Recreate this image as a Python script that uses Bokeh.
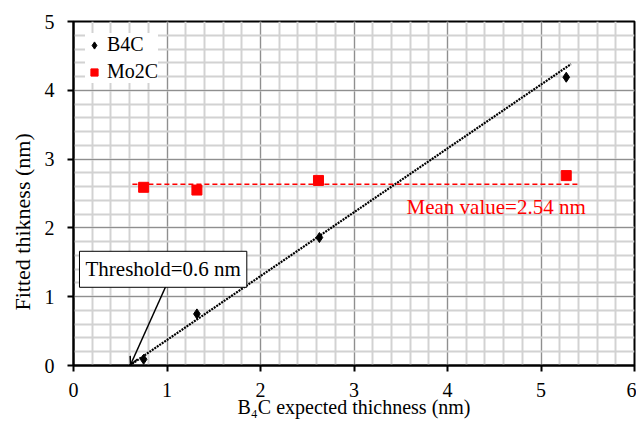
from bokeh.plotting import figure
from bokeh.models import (Range1d, SingleIntervalTicker, Label, Arrow, OpenHead,
                          Legend, LegendItem, Title)
from bokeh.embed import file_html
from bokeh.resources import INLINE

# ---- data ----
b4c_x = [0.75, 1.32, 2.63, 5.27]
b4c_y = [0.09, 0.75, 1.86, 4.19]
mo2c_x = [0.75, 1.32, 2.62, 5.27]
mo2c_y = [2.59, 2.55, 2.69, 2.76]
fit_x = [0.60, 5.32]
fit_y = [0.00, 4.38]
mean_x = [0.63, 5.41]
mean_y = [2.635, 2.635]
threshold_arrow = [0.99, 1.16, 0.61, 0.01]  # x_start, y_start, x_end, y_end
x_ticks = [0, 1, 2, 3, 4, 5, 6]
y_ticks = [0, 1, 2, 3, 4, 5]

FONT = "Liberation Serif"

p = figure(width=636, height=421, output_backend="svg", toolbar_location=None,
           x_range=Range1d(0, 6), y_range=Range1d(0, 5),
           min_border_left=73, min_border_right=2, min_border_top=21, min_border_bottom=56)
p.background_fill_color = "white"
p.border_fill_color = "white"
p.outline_line_color = "black"
p.outline_line_width = 2

for ax in (p.xaxis[0], p.yaxis[0]):
    ax.ticker = SingleIntervalTicker(interval=1, num_minor_ticks=5)
    ax.axis_line_width = 2
    ax.axis_line_color = "black"
    ax.major_tick_line_width = 2
    ax.major_tick_line_color = "black"
    ax.major_tick_out = 6
    ax.major_tick_in = 0
    ax.minor_tick_line_color = None
    ax.major_label_text_font = FONT
    ax.major_label_text_font_size = "20px"
    ax.major_label_text_color = "black"
    ax.axis_label_text_font = FONT
    ax.axis_label_text_font_size = "20px"
    ax.axis_label_text_font_style = "normal"
    ax.axis_label_text_color = "black"

p.xaxis.axis_label = "B\u2084C expected thichness (nm)"
p.xaxis.major_label_standoff = 11
p.xaxis.axis_label_standoff = -4
p.yaxis.major_label_standoff = 13

# y axis title as a side title so it can sit off-centre like the reference
ytitle = Title(text="Fitted thikness (nm)", align="left", offset=55,
               text_font=FONT, text_font_size="22px", text_font_style="normal",
               text_color="black", standoff=14)
p.add_layout(ytitle, "left")

for g in (p.xgrid[0], p.ygrid[0]):
    g.grid_line_color = "#8f8f8f"
    g.grid_line_width = 1
    g.minor_grid_line_color = "#d2d2d2"
    g.minor_grid_line_width = 2

# lines
p.line(fit_x, fit_y, line_color="black", line_width=2.2, line_dash="2 1")
p.line(mean_x, mean_y, line_color="#ff0000", line_width=1.5, line_dash="5 3")

# markers
r_b4c = p.scatter(b4c_x, b4c_y, marker="diamond", size=10, color="black")
r_mo2c = p.scatter(mo2c_x, mo2c_y, marker="square", size=10, color="#ff0000")

legend = Legend(items=[LegendItem(label="B4C", renderers=[r_b4c]),
                       LegendItem(label="Mo2C", renderers=[r_mo2c])],
                location="top_left")
legend.label_text_font = FONT
legend.label_text_font_size = "20px"
legend.label_text_color = "black"
legend.border_line_color = None
legend.background_fill_color = "white"
legend.background_fill_alpha = 1
legend.margin = 12
legend.padding = 4
legend.spacing = 4
legend.glyph_width = 18
legend.label_standoff = 4
p.add_layout(legend)

# annotations
p.add_layout(Arrow(end=OpenHead(size=8, line_width=1.5, line_color="black"),
                   x_start=threshold_arrow[0], y_start=threshold_arrow[1],
                   x_end=threshold_arrow[2], y_end=threshold_arrow[3],
                   line_width=1.5, line_color="black"))
p.add_layout(Label(x=0.064, y=1.66, text="Threshold=0.6 nm", text_font=FONT,
                   text_font_size="21px", text_color="black",
                   text_align="left", text_baseline="top",
                   border_line_color="black", border_line_width=1,
                   background_fill_color="white", padding=6))
p.add_layout(Label(x=4.52, y=2.31, text="Mean value=2.54 nm", text_font=FONT,
                   text_font_size="21px", text_color="#ff0000",
                   text_align="center", text_baseline="middle"))

open("out.html", "w").write(file_html(p, INLINE))
